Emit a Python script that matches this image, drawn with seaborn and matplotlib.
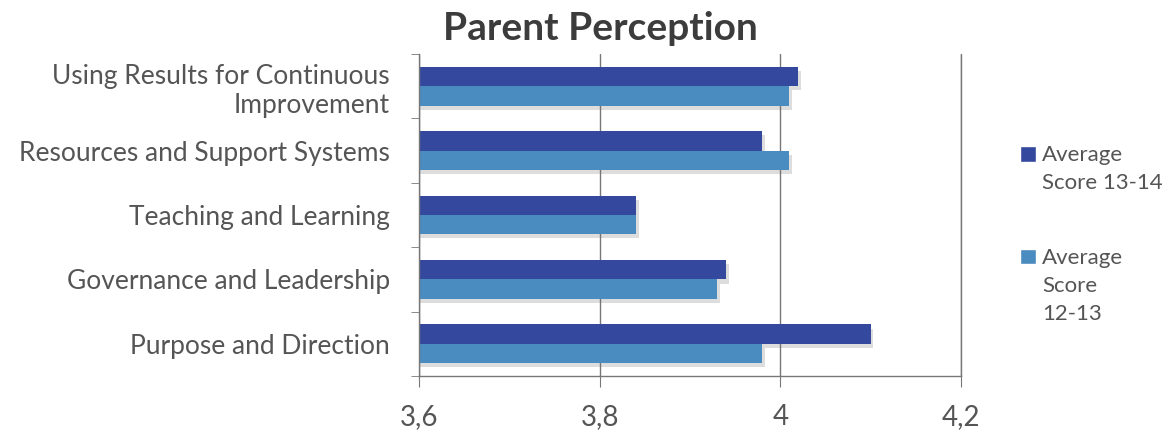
import pandas as pd
import seaborn as sns
import matplotlib.pyplot as plt
from matplotlib.ticker import FuncFormatter, FixedLocator
from matplotlib.patches import Patch, Rectangle
from matplotlib.legend_handler import HandlerPatch
import matplotlib.patheffects as pe

categories = ["Using Results for Continuous\nImprovement",
              "Resources and Support Systems",
              "Teaching and Learning",
              "Governance and Leadership",
              "Purpose and Direction"]
score_13_14 = [4.02, 3.98, 3.84, 3.94, 4.10]
score_12_13 = [4.01, 4.01, 3.84, 3.93, 3.98]
series = ["Average Score 13-14", "Average Score 12-13"]
colors = ["#34499E", "#4A8BC0"]

data = pd.DataFrame({
    "category": categories * 2,
    "score": score_13_14 + score_12_13,
    "series": [series[0]] * 5 + [series[1]] * 5,
})

sns.set_style("white")
plt.rcParams["font.family"] = ["Lato", "DejaVu Sans"]
text_color = "#555555"


# legend square sits next to the first line of a multi-line label
class TopSquare(HandlerPatch):
    def __init__(self, lift):
        super().__init__()
        self.lift = lift

    def create_artists(self, legend, orig_handle, xdescent, ydescent, width, height, fontsize, trans):
        p = Rectangle((-xdescent, -ydescent + self.lift * fontsize), width, height,
                      facecolor=orig_handle.get_facecolor(), transform=trans)
        return [p]


fig = plt.figure(figsize=(11.62, 4.40), dpi=100)
ax = fig.add_axes([419 / 1162, 1 - 376 / 440, (961 - 419) / 1162, (376 - 54) / 440])

sns.barplot(data=data, y="category", x="score", hue="series", orient="h",
            palette=colors, width=0.6, saturation=1, linewidth=0, ax=ax, legend=False)

for bar in ax.patches:
    bar.set_path_effects([pe.SimplePatchShadow(offset=(2, -3), shadow_rgbFace="#666666", alpha=0.22),
                          pe.Normal()])

ax.set_xlim(3.6, 4.2)
ax.set_ylim(4.5, -0.5)
ax.set_xticks([3.6, 3.8, 4.0, 4.2])
ax.xaxis.set_major_formatter(FuncFormatter(lambda v, p: f"{v:g}".replace(".", ",")))
ax.grid(axis="x", color="#777777", linewidth=1)
ax.axvline(4.2, color="#777777", linewidth=1, clip_on=False, zorder=0)
ax.set_axisbelow(True)
ax.set_xlabel("")
ax.set_ylabel("")

for s in ["top", "right"]:
    ax.spines[s].set_visible(False)
for s in ["left", "bottom"]:
    ax.spines[s].set_color("#777777")
    ax.spines[s].set_linewidth(1)

ax.tick_params(axis="x", length=8, color="#777777", labelsize=20, labelcolor=text_color, pad=12, bottom=True)
ax.tick_params(axis="y", which="major", length=0, labelsize=19, labelcolor=text_color, pad=21)
ax.yaxis.set_minor_locator(FixedLocator([-0.5, 0.5, 1.5, 2.5, 3.5, 4.5]))
ax.tick_params(axis="y", which="minor", length=6, color="#777777", left=True)
for lbl in ax.get_yticklabels():
    lbl.set_horizontalalignment("right")
    lbl.set_multialignment("right")

fig.text(600 / 1162, 1 - 28 / 440, "Parent Perception", ha="center", va="center",
         fontsize=28, fontweight="bold", color="#3c3c3c")

handles = [Patch(facecolor=c) for c in colors]
leg = fig.legend(handles, ["Average\nScore 13-14", "Average\nScore\n12-13"],
                 handler_map={handles[0]: TopSquare(0.68), handles[1]: TopSquare(1.32)},
                 loc="upper left", bbox_to_anchor=(1009 / 1162, 1 - 134 / 440),
                 frameon=False, fontsize=16, labelcolor=text_color,
                 handlelength=0.7, handleheight=0.7, handletextpad=0.3,
                 labelspacing=2.45, borderpad=0)
for t in leg.get_texts():
    t.set_linespacing(1.5)

fig.savefig("out.png", dpi=100)
